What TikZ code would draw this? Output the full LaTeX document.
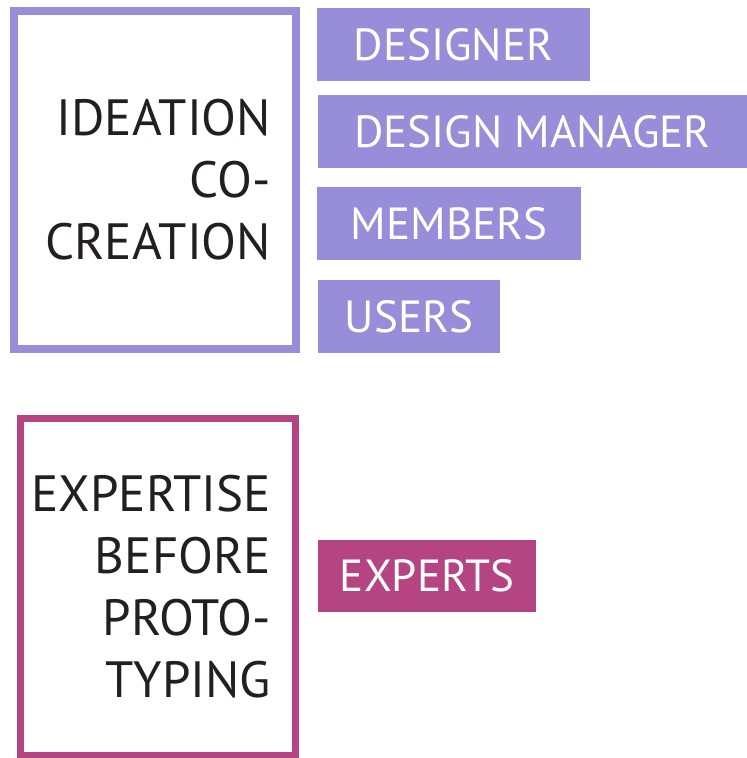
\documentclass[tikz,border=0pt]{standalone}
\usepackage{fontspec}
\setmainfont{PT Sans}
\usepackage{tikz}
\definecolor{lavender}{RGB}{151,141,217}
\definecolor{plum}{RGB}{180,69,130}
\definecolor{inkblack}{RGB}{35,31,32}
\newcommand{\clrone}{lavender}
\newcommand{\clrtwo}{plum}
\tikzset{
    frame/.style={draw=#1, inner sep=0pt, align=right, text=inkblack,
        font=\fontsize{51}{62}\selectfont},
    tag/.style={fill=#1, inner sep=0pt, minimum height=73pt, text=white,
        font=\fontsize{45}{50}\selectfont}
}

\begin{document}
\begin{tikzpicture}[x=1pt, y=-1pt]
    \useasboundingbox (0,0) rectangle (747,758);

    \node[frame=\clrone, line width=8pt, minimum width=281.5pt, minimum height=338.5pt, text width=232.5pt]
        (ideation) at (154.75,179.75) {IDEATION\\CO-\\CREATION};

    \node[tag=\clrone, minimum width=273pt] (designer) at (453.5,44.5) {DESIGNER};
    \node[tag=\clrone, minimum width=429pt] (manager) at (532.5,131.5) {DESIGN MANAGER};
    \node[tag=\clrone, minimum width=264pt] (members) at (449,223.5) {MEMBERS};
    \node[tag=\clrone, minimum width=182pt] (users) at (409,316.5) {USERS};

    \node[frame=\clrtwo, line width=7pt, minimum width=275pt, minimum height=337pt, text width=226pt]
        (expertise) at (158,587) {\makebox[\linewidth][r]{EXPERTISE}\\BEFORE\\PROTO-\\TYPING};

    \node[tag=\clrtwo, minimum width=218pt, minimum height=72pt] (experts) at (427,576) {EXPERTS};
\end{tikzpicture}
\end{document}
